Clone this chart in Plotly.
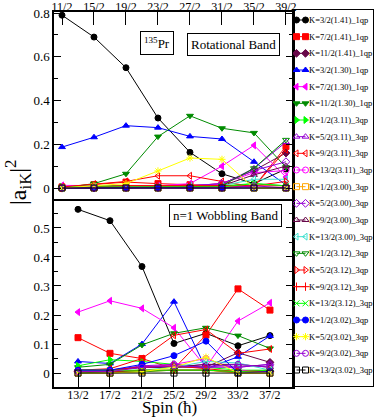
import plotly.graph_objects as go

#1. data
spin_rot = [5.5, 7.5, 9.5, 11.5, 13.5, 15.5, 17.5, 19.5]
spin_rot_text = ["11/2", "15/2", "19/2", "23/2", "27/2", "31/2", "35/2", "39/2"]
spin_wob = [6.5, 8.5, 10.5, 12.5, 14.5, 16.5, 18.5]
spin_wob_text = ["13/2", "17/2", "21/2", "25/2", "29/2", "33/2", "37/2"]

labels = ["K=3/2(1.41)_1qp", "K=7/2(1.41)_1qp", "K=11/2(1.41)_1qp",
          "K=3/2(1.30)_1qp", "K=7/2(1.30)_1qp", "K=11/2(1.30)_1qp",
          "K=1/2(3.11)_3qp", "K=5/2(3.11)_3qp", "K=9/2(3.11)_3qp", "K=13/2(3.11)_3qp",
          "K=1/2(3.00)_3qp", "K=5/2(3.00)_3qp", "K=9/2(3.00)_3qp", "K=13/2(3.00)_3qp",
          "K=1/2(3.12)_3qp", "K=5/2(3.12)_3qp", "K=9/2(3.12)_3qp", "K=13/2(3.12)_3qp",
          "K=1/2(3.02)_3qp", "K=5/2(3.02)_3qp", "K=9/2(3.02)_3qp", "K=13/2(3.02)_3qp"]

colors = ["#000000", "#ff0000", "#670748", "#0000ff", "#ff00ff", "#008b00",
          "#00ff00", "#9400d3", "#ff0000", "#ff00ff",
          "#ffa500", "#9400d3", "#670748", "#40e0d0",
          "#008b00", "#ff0000", "#ff0000", "#00ff00",
          "#0000ff", "#ffff00", "#9400d3", "#000000"]

symbols = ["circle", "square", "diamond", "triangle-up", "triangle-left", "triangle-down",
           "triangle-right", "triangle-up-open", "triangle-left-open", "circle-open",
           "square-open", "diamond-open", "triangle-up-open", "triangle-left-open",
           "triangle-down-open", "triangle-right-open", "cross-thin-open", "x-thin-open",
           "circle", "asterisk-open", "circle-open", "square-open"]

# rotational band, one row per K state
rot_vals = [
    [0.79, 0.69, 0.55, 0.32, 0.163, 0.065, 0.02, 0.087],
    [0.005, 0.015, 0.027, 0.02, 0.015, 0.012, 0.005, 0.19],
    [0.0, 0.005, 0.005, 0.01, 0.01, 0.02, 0.08, 0.16],
    [0.187, 0.232, 0.285, 0.276, 0.236, 0.224, 0.12, 0.014],
    [0.012, 0.01, 0.01, 0.01, 0.02, 0.1, 0.195, 0.05],
    [0.0, 0.02, 0.065, 0.235, 0.33, 0.273, 0.252, 0.095],
    [0.005, 0.01, 0.01, 0.005, 0.005, 0.01, 0.02, 0.01],
    [0.0, 0.005, 0.005, 0.005, 0.01, 0.015, 0.09, 0.21],
    [0.005, 0.018, 0.03, 0.056, 0.056, 0.03, 0.005, 0.175],
    [0.0, 0.005, 0.005, 0.01, 0.01, 0.02, 0.07, 0.08],
    [0.0, 0.0, 0.0, 0.0, 0.0, 0.0, 0.0, 0.0],
    [0.0, 0.0, 0.005, 0.005, 0.01, 0.02, 0.08, 0.12],
    [0.0, 0.0, 0.005, 0.005, 0.005, 0.01, 0.06, 0.1],
    [0.0, 0.005, 0.005, 0.005, 0.01, 0.01, 0.04, 0.04],
    [0.0, 0.0, 0.0, 0.005, 0.005, 0.01, 0.09, 0.22],
    [0.0, 0.005, 0.01, 0.01, 0.01, 0.01, 0.01, 0.03],
    [0.0, 0.005, 0.01, 0.01, 0.01, 0.01, 0.01, 0.01],
    [0.0, 0.005, 0.005, 0.005, 0.005, 0.005, 0.02, 0.01],
    [0.0, 0.0, 0.0, 0.0, 0.0, 0.0, 0.0, 0.0],
    [0.0, 0.01, 0.02, 0.078, 0.137, 0.131, 0.0, 0.0],
    [0.0, 0.0, 0.0, 0.0, 0.0, 0.0, 0.01, 0.0],
    [0.0, 0.0, 0.0, 0.0, 0.0, 0.0, 0.0, 0.0],
]

# n=1 wobbling band
wob_vals = [
    [0.564, 0.525, 0.367, 0.102, 0.137, 0.094, 0.129],
    [0.122, 0.068, 0.05, 0.015, 0.131, 0.29, 0.217],
    [0.01, 0.01, 0.02, 0.02, 0.02, 0.07, 0.037],
    [0.04, 0.033, 0.1, 0.246, 0.015, 0.056, 0.128],
    [0.21, 0.249, 0.223, 0.156, 0.02, 0.179, 0.242],
    [0.02, 0.03, 0.097, 0.137, 0.156, 0.129, 0.085],
    [0.025, 0.046, 0.04, 0.03, 0.02, 0.01, 0.01],
    [0.005, 0.01, 0.02, 0.02, 0.03, 0.02, 0.03],
    [0.01, 0.015, 0.05, 0.13, 0.15, 0.068, 0.083],
    [0.005, 0.01, 0.02, 0.03, 0.05, 0.01, 0.005],
    [0.0, 0.0, 0.005, 0.01, 0.01, 0.0, 0.0],
    [0.005, 0.01, 0.025, 0.03, 0.02, 0.02, 0.03],
    [0.01, 0.01, 0.02, 0.02, 0.03, 0.03, 0.02],
    [0.0, 0.005, 0.01, 0.02, 0.04, 0.035, 0.01],
    [0.0, 0.005, 0.005, 0.01, 0.01, 0.005, 0.005],
    [0.005, 0.01, 0.02, 0.025, 0.015, 0.005, 0.01],
    [0.005, 0.005, 0.01, 0.01, 0.01, 0.005, 0.005],
    [0.01, 0.01, 0.01, 0.01, 0.01, 0.005, 0.01],
    [0.01, 0.01, 0.03, 0.06, 0.11, 0.0, 0.005],
    [0.0, 0.0, 0.005, 0.02, 0.055, 0.0, 0.0],
    [0.005, 0.005, 0.02, 0.025, 0.02, 0.03, 0.02],
    [0.0, 0.0, 0.0, 0.0, 0.0, 0.0, 0.0],
]

FONT = "Liberation Serif"

#2. traces
fig = go.Figure()
for i in range(len(labels)):
    mk = dict(symbol=symbols[i], size=6, color=colors[i], line=dict(color=colors[i], width=1))
    ln = dict(color=colors[i], width=1)
    fig.add_trace(go.Scatter(x=spin_rot, y=rot_vals[i], mode="lines+markers", line=ln, marker=mk,
                             xaxis="x", yaxis="y", name=labels[i], showlegend=False))
    fig.add_trace(go.Scatter(x=spin_wob, y=wob_vals[i], mode="lines+markers", line=ln, marker=mk,
                             xaxis="x2", yaxis="y2", name=labels[i], showlegend=False))
    # legend sample, drawn by hand (plotly legend rows are too tall for 22 entries)
    fig.add_trace(go.Scatter(x=[3.5, 12.5], y=[i, i], mode="lines+markers", line=ln, marker=mk,
                             xaxis="x3", yaxis="y3", hoverinfo="skip", showlegend=False))
    fig.add_annotation(x=14, y=i, xref="x3", yref="y3", text=labels[i], showarrow=False,
                       xanchor="left", yanchor="middle", font=dict(family=FONT, size=8.5, color="black"))

#3. layout
xdom = [54 / 374, 293 / 374]
common = dict(showline=True, linecolor="black", linewidth=1.5, showgrid=False, zeroline=False,
              ticks="inside", tickcolor="black", automargin=False)
tfont = dict(family=FONT, size=13, color="black")

fig.update_layout(
    width=374, height=419,
    margin=dict(l=0, r=0, t=0, b=0),
    paper_bgcolor="white", plot_bgcolor="white",
    xaxis=dict(domain=xdom, anchor="y", range=[5, 19.94], side="top", tickvals=spin_rot,
               ticktext=spin_rot_text, ticklen=13, mirror=True, ticklabelstandoff=-6,
               tickfont=dict(family=FONT, size=12, color="black"), **common),
    yaxis=dict(domain=[220 / 419, 407 / 419], anchor="x", range=[-0.0503, 0.8046], tick0=0, dtick=0.2,
               ticklen=7, mirror="ticks", tickfont=tfont,
               minor=dict(dtick=0.1, tick0=0, ticks="inside", ticklen=4, tickcolor="black"), **common),
    xaxis2=dict(domain=xdom, anchor="y2", range=[5, 19.94], side="bottom", tickvals=spin_wob,
                ticktext=spin_wob_text, ticklen=14, mirror=False, ticklabelstandoff=-4,
                tickfont=dict(family=FONT, size=12, color="black"), **common),
    yaxis2=dict(domain=[32 / 419, 220 / 419], anchor="x2", range=[-0.048, 0.5997], tick0=0, dtick=0.1,
                ticklen=7, mirror="ticks", tickfont=tfont,
                minor=dict(dtick=0.05, tick0=0, ticks="inside", ticklen=4, tickcolor="black"), **common),
    xaxis3=dict(domain=[293 / 374, 373 / 374], anchor="y3", range=[0, 80], showline=True, mirror=True,
                linecolor="black", linewidth=1, showgrid=False, zeroline=False, showticklabels=False,
                ticks="", automargin=False),
    yaxis3=dict(domain=[33 / 419, 409 / 419], anchor="x3", range=[21.96, -0.6], showline=True, mirror=True,
                linecolor="black", linewidth=1, showgrid=False, zeroline=False, showticklabels=False,
                ticks="", automargin=False),
)

box = dict(showarrow=False, xref="paper", yref="paper", xanchor="center", yanchor="middle",
           bordercolor="black", borderwidth=1, bgcolor="white", font=dict(family=FONT, size=13, color="black"))
fig.add_annotation(text="<sup>135</sup>Pr", x=157 / 374, y=(419 - 43) / 419, borderpad=3, **box)
fig.add_annotation(text="Rotational Band", x=233.5 / 374, y=(419 - 44.5) / 419, borderpad=3, **box)
fig.add_annotation(text="n=1 Wobbling Band", x=225 / 374, y=(419 - 215.5) / 419, borderpad=3, **box)

fig.add_annotation(text="|a<sub>iK</sub>|<sup>2</sup>", x=18 / 374, y=(419 - 183) / 419, xref="paper",
                   yref="paper", xanchor="center", yanchor="middle", showarrow=False, textangle=-90,
                   font=dict(family=FONT, size=24, color="black"))
fig.add_annotation(text="Spin (ħ)", x=169 / 374, y=(419 - 407) / 419, xref="paper", yref="paper",
                   xanchor="center", yanchor="middle", showarrow=False,
                   font=dict(family=FONT, size=17, color="black"))

fig.write_html("out.html", config={"displayModeBar": False},
               post_script="document.body.style.margin='0px';")
